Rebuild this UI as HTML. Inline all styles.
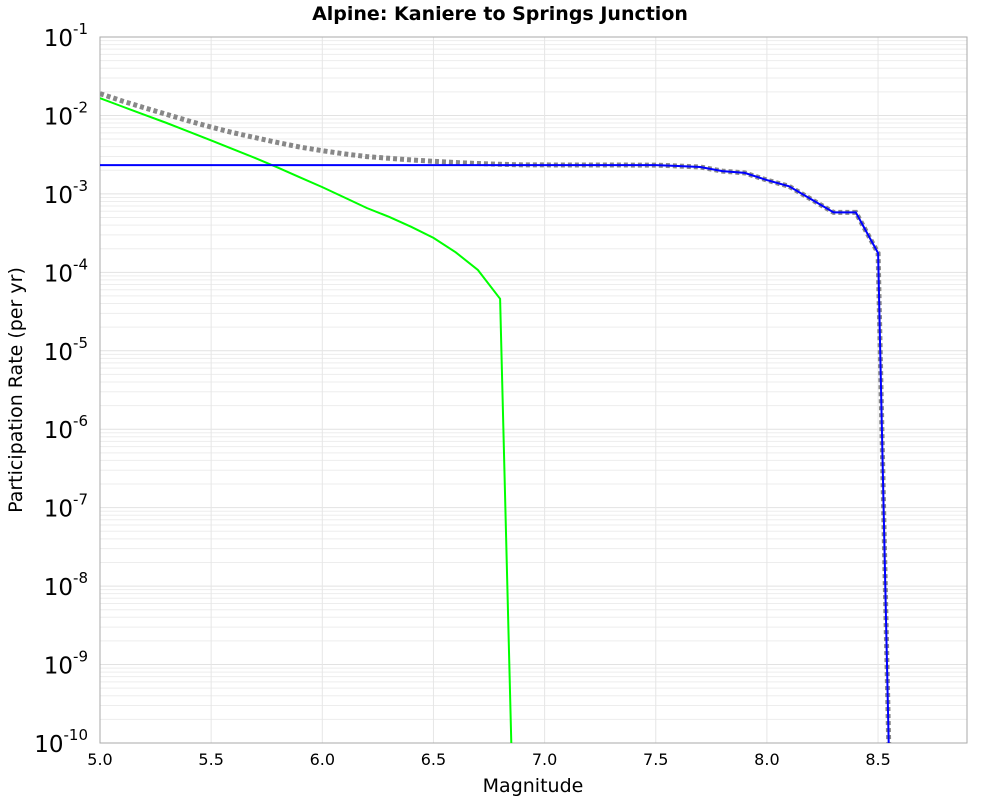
<!DOCTYPE html>
<html><head><meta charset="utf-8"><style>
body{margin:0;background:#fff;font-family:"Liberation Sans","DejaVu Sans",sans-serif}
</style></head><body>
<svg id="chart" width="1000" height="800" xmlns="http://www.w3.org/2000/svg" font-family="DejaVu Sans, Liberation Sans, sans-serif">
<defs><clipPath id="pc"><rect x="100" y="37" width="867" height="706"/></clipPath></defs>
<text x="500" y="20" text-anchor="middle" font-size="19" font-weight="bold">Alpine: Kaniere to Springs Junction</text>
<g id="grid"></g>
<rect x="100" y="37" width="867" height="706" fill="none" stroke="#aaa"/>
<g id="series" clip-path="url(#pc)"></g>
<g id="ticks"></g>
<text x="533" y="792" text-anchor="middle" font-size="19">Magnitude</text>
<text transform="translate(22,390) rotate(-90)" text-anchor="middle" font-size="19">Participation Rate (per yr)</text>
</svg>
<script>
const xTicks=[5.0,5.5,6.0,6.5,7.0,7.5,8.0,8.5];
const yExps=[-1,-2,-3,-4,-5,-6,-7,-8,-9,-10];
const greenMags=[5.0,5.1,5.2,5.3,5.4,5.5,5.6,5.7,5.8,5.9,6.0,6.1,6.2,6.3,6.4,6.5,6.6,6.7,6.8,6.85];
const greenVals=[1.66e-2,1.30e-2,1.02e-2,8.0e-3,6.2e-3,4.8e-3,3.7e-3,2.85e-3,2.16e-3,1.62e-3,1.22e-3,9.0e-4,6.6e-4,5.1e-4,3.8e-4,2.75e-4,1.8e-4,1.07e-4,4.6e-5,1e-10];
const blueMags=[5.0,7.5,7.6,7.7,7.8,7.9,8.0,8.1,8.2,8.3,8.4,8.5,8.55];
const blueVals=[2.33e-3,2.33e-3,2.27e-3,2.2e-3,1.95e-3,1.85e-3,1.5e-3,1.25e-3,8.5e-4,5.8e-4,5.8e-4,1.76e-4,5e-11];
const totalMags=[5.0,5.1,5.2,5.3,5.4,5.5,5.6,5.7,5.8,5.9,6.0,6.1,6.2,6.3,6.4,6.5,6.6,6.7,6.8,6.9,7.5,7.6,7.7,7.8,7.9,8.0,8.1,8.2,8.3,8.4,8.5,8.55];
const totalVals=[1.9e-2,1.53e-2,1.25e-2,1.03e-2,8.5e-3,7.1e-3,6.0e-3,5.2e-3,4.5e-3,3.95e-3,3.55e-3,3.23e-3,2.99e-3,2.84e-3,2.71e-3,2.6e-3,2.51e-3,2.44e-3,2.38e-3,2.34e-3,2.33e-3,2.27e-3,2.2e-3,1.95e-3,1.85e-3,1.5e-3,1.25e-3,8.5e-4,5.8e-4,5.8e-4,1.76e-4,5e-11];
const X=m=>100+(m-5)*222.3;
const Y=v=>37+(-1-Math.log10(v))*78.44;
const NS='http://www.w3.org/2000/svg';
function mk(t,a,p){const e=document.createElementNS(NS,t);for(const k in a)e.setAttribute(k,a[k]);p.appendChild(e);return e;}
const grid=document.getElementById('grid'),ticks=document.getElementById('ticks'),ser=document.getElementById('series');
yExps.forEach(ex=>{
  for(let k=1;k<=9;k++){const v=k*Math.pow(10,ex);if(v>0.1)continue;const y=Y(v);if(y>743.5)continue;
    const l=mk('line',{x1:100,x2:967,y1:y,y2:y,stroke:k===1?'#e2e2e2':'#ededed','stroke-width':1},grid);
    }
  const t=mk('text',{x:88,y:Y(Math.pow(10,ex))+9,'text-anchor':'end','font-size':23},ticks);
  
  t.textContent='10';
  const s=mk('tspan',{dy:-12,'font-size':15},t);s.textContent=String(ex);
});
xTicks.forEach(m=>{
  const l=mk('line',{x1:X(m),x2:X(m),y1:37,y2:743,stroke:'#e6e6e6'},grid);
  
  const t=mk('text',{x:X(m),y:765,'text-anchor':'middle','font-size':16},ticks);
  
  t.textContent=m.toFixed(1);
});
function pts(ms,vs){return ms.map((m,i)=>X(m).toFixed(1)+','+Y(vs[i]).toFixed(1)).join(' ');}
const g=mk('polyline',{points:pts(greenMags,greenVals),fill:'none',stroke:'#00ff00','stroke-width':2},ser);

const t=mk('polyline',{points:pts(totalMags,totalVals),fill:'none',stroke:'#888','stroke-width':5,'stroke-dasharray':'4 3'},ser);

const b=mk('polyline',{points:pts(blueMags,blueVals),fill:'none',stroke:'#0000ff','stroke-width':2},ser);

</script>
</body></html>
